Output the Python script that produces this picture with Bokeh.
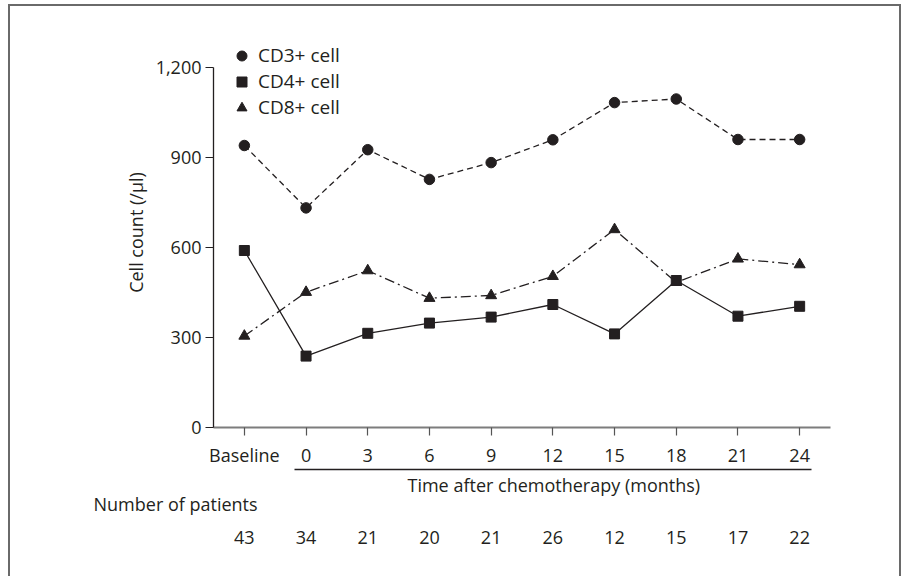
from bokeh.plotting import figure
from bokeh.models import (Range1d, FixedTicker, NumeralTickFormatter, LinearAxis,
                          Legend, LegendItem, Title)
from bokeh.embed import file_html
from bokeh.resources import INLINE

# ---- data -------------------------------------------------------------
tick_labels = ["Baseline", "0", "3", "6", "9", "12", "15", "18", "21", "24"]
cd3 = [940, 732, 926, 827, 883, 959, 1083, 1095, 960, 960]
cd4 = [590, 238, 314, 348, 368, 410, 312, 490, 371, 404]
cd8 = [305, 451, 523, 431, 440, 504, 660, 484, 562, 543]
patients = [43, 34, 21, 20, 21, 26, 12, 15, 17, 22]
y_ticks = [0, 300, 600, 900, 1200]
series_names = ["CD3+ cell", "CD4+ cell", "CD8+ cell"]

x = list(range(len(tick_labels)))
FONT = "Open Sans"
INK = "#231f20"

W, H = 893, 572
BL, BR, BT, BB = 203, 73, 31, 151
Y0, Y1 = 0, 1300
X0, X1 = -0.5, len(x) - 0.5

p = figure(width=W, height=H, output_backend="svg", toolbar_location=None,
           x_range=Range1d(X0, X1), y_range=Range1d(Y0, Y1),
           min_border_left=BL, min_border_right=BR, min_border_top=BT,
           min_border_bottom=BB, outline_line_color=None,
           background_fill_color="white", border_fill_color="white")
p.grid.visible = False
p.styles = {"margin-left": "8px", "margin-top": "4px",
            "border-top": "2px solid #6a6a6a", "border-left": "2px solid #6a6a6a",
            "border-right": "2px solid #6a6a6a"}

# ---- y axis -----------------------------------------------------------
ya = p.yaxis[0]
ya.ticker = FixedTicker(ticks=y_ticks)
ya.formatter = NumeralTickFormatter(format="0,0")
ya.bounds = (y_ticks[0], y_ticks[-1])
ya.axis_line_color = INK
ya.axis_line_width = 1.3
ya.major_tick_line_color = INK
ya.major_tick_line_width = 1.2
ya.major_tick_out = 8
ya.major_tick_in = 0
ya.minor_tick_line_color = None
ya.major_label_standoff = 4
ya.major_label_text_font = FONT
ya.major_label_text_font_size = "18px"
ya.major_label_text_color = INK
ya.axis_label = "Cell count (/μl)"
ya.axis_label_text_font = FONT
ya.axis_label_text_font_size = "18px"
ya.axis_label_text_font_style = "normal"
ya.axis_label_text_color = INK
ya.axis_label_standoff = 5

# ---- x axis (time points) --------------------------------------------
xa = p.xaxis[0]
xa.ticker = FixedTicker(ticks=x)
xa.major_label_overrides = {i: t for i, t in zip(x, tick_labels)}
xa.axis_line_color = "#7d7d7d"
xa.axis_line_width = 1.8
xa.major_tick_line_color = "#555555"
xa.major_tick_line_width = 1.2
xa.major_tick_out = 8
xa.major_tick_in = 0
xa.minor_tick_line_color = None
xa.major_label_standoff = 7
xa.major_label_text_font = FONT
xa.major_label_text_font_size = "18px"
xa.major_label_text_color = INK

# underline spanning the post-chemotherapy time points
ub = LinearAxis(ticker=FixedTicker(ticks=[]), bounds=(x[1] - 0.19, x[-1] + 0.19),
                axis_line_color=INK, axis_line_width=1.3,
                major_tick_line_color=None, minor_tick_line_color=None,
                major_label_text_font_size="0px")
p.add_layout(ub, "below")

# captions below the underline (offsets in pixels from the frame's left edge)
t_time = Title(text="Time after chemotherapy (months)", align="left", offset=194,
               vertical_align="bottom", standoff=3, text_font=FONT,
               text_font_size="18px", text_font_style="normal", text_color=INK)
p.add_layout(t_time, "below")
t_num = Title(text="Number of patients", align="left", offset=-120,
              vertical_align="bottom", standoff=-18, text_font=FONT,
              text_font_size="18px", text_font_style="normal", text_color=INK)
p.add_layout(t_num, "below")

# number of patients row
na = LinearAxis(ticker=FixedTicker(ticks=x),
                major_label_overrides={i: str(n) for i, n in zip(x, patients)},
                axis_line_color=None, major_tick_line_color=None,
                minor_tick_line_color=None, major_tick_out=0, major_tick_in=0,
                major_label_standoff=24, major_label_text_font=FONT,
                major_label_text_font_size="18px", major_label_text_color=INK)
p.add_layout(na, "below")

# ---- series -----------------------------------------------------------
p.line(x, cd3, line_color=INK, line_width=1.3, line_dash="6 4")
p.line(x, cd4, line_color=INK, line_width=1.3)
p.line(x, cd8, line_color=INK, line_width=1.3, line_dash="10 4 2 4")
r3 = p.scatter(x, cd3, marker="circle", size=10.5, color=INK)
r4 = p.scatter(x, cd4, marker="square", size=10, color=INK)
r8 = p.scatter(x, cd8, marker="triangle", size=11, color=INK)

legend = Legend(items=[LegendItem(label=series_names[0], renderers=[r3]),
                       LegendItem(label=series_names[1], renderers=[r4]),
                       LegendItem(label=series_names[2], renderers=[r8])],
                location=(16, 307), padding=0, margin=0, spacing=0,
                glyph_width=25, glyph_height=25, label_height=25,
                label_standoff=4, border_line_color=None,
                background_fill_alpha=0, label_text_font=FONT,
                label_text_font_size="19px", label_text_color=INK)
p.add_layout(legend)

open("out.html", "w").write(file_html(p, INLINE))
